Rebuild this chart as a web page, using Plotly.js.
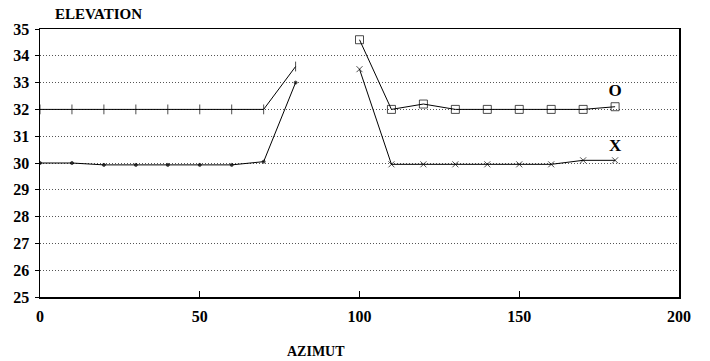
<!DOCTYPE html>
<html>
<head>
<meta charset="utf-8">
<script src="https://cdn.plot.ly/plotly-3.0.1.min.js"></script>
<style>html,body{margin:0;padding:0;background:#fff;}#chart{width:710px;height:361px;}</style>
</head>
<body>
<div id="chart"></div>
<script>
// Data
const azimut = [0, 10, 20, 30, 40, 50, 60, 70, 80, 90, 100, 110, 120, 130, 140, 150, 160, 170, 180];
const elevO  = [32, 32, 32, 32, 32, 32, 32, 32, 33.6, null, 34.6, 32, 32.2, 32, 32, 32, 32, 32, 32.1];
const elevX  = [30, 30, 29.93, 29.93, 29.93, 29.93, 29.93, 30.05, 33, null, 33.5, 29.95, 29.95, 29.95, 29.95, 29.95, 29.95, 30.1, 30.1];
const labelO = ['', '', '', '', '', '', '', '', '', '', '', '', '', '', '', '', '', '', 'O'];
const labelX = ['', '', '', '', '', '', '', '', '', '', '', '', '', '', '', '', '', '', 'X'];
const symO = azimut.map(a => a < 90 ? 'line-ns-open' : 'square-open');
const sizeO = azimut.map(a => a < 90 ? 7 : 8);
const symX = azimut.map(a => a < 90 ? 'circle' : 'x-thin-open');
const sizeX = azimut.map(a => a < 90 ? 3 : 6);
const xTicks = [0, 50, 100, 150, 200];
const yTicks = [25, 26, 27, 28, 29, 30, 31, 32, 33, 34, 35];

const serif = '"Liberation Serif"';
const traces = [
  {
    x: azimut, y: elevO, text: labelO, mode: 'lines+markers+text', connectgaps: false,
    textposition: 'top center', textfont: {family: serif, size: 17, color: '#000', weight: 'bold'},
    line: {color: '#000', width: 1},
    marker: {symbol: symO, size: sizeO, color: '#000', line: {color: '#000', width: 1}},
    hoverinfo: 'x+y', showlegend: false
  },
  {
    x: azimut, y: elevX, text: labelX, mode: 'lines+markers+text', connectgaps: false,
    textposition: 'top center', textfont: {family: serif, size: 17, color: '#000', weight: 'bold'},
    line: {color: '#000', width: 1},
    marker: {symbol: symX, size: sizeX, color: '#000', line: {color: '#000', width: 1}},
    hoverinfo: 'x+y', showlegend: false
  }
];

const layout = {
  width: 710, height: 361,
  margin: {l: 40, r: 31, t: 29, b: 64},
  paper_bgcolor: '#fff', plot_bgcolor: '#fff',
  font: {family: serif, color: '#000'},
  xaxis: {
    range: [0, 200], tickvals: xTicks, ticktext: xTicks.map(String),
    ticks: 'inside', ticklen: 6, tickcolor: '#000', tickwidth: 1,
    showgrid: false, zeroline: false,
    showline: true, mirror: true, linecolor: '#000', linewidth: 1.5,
    tickfont: {family: serif, size: 16, color: '#000', weight: 'bold'},
    ticklabelstandoff: 4
  },
  yaxis: {
    range: [25, 35], tickvals: yTicks, ticktext: yTicks.map(String),
    ticks: 'outside', ticklen: 4, tickcolor: '#000', tickwidth: 1,
    showgrid: true, gridcolor: '#555', gridwidth: 1, griddash: '1px,2px',
    zeroline: false,
    showline: true, mirror: true, linecolor: '#000', linewidth: 1.5,
    tickfont: {family: serif, size: 16, color: '#000', weight: 'bold'},
    ticklabelstandoff: 2
  },
  annotations: [
    {text: 'ELEVATION', xref: 'paper', yref: 'paper', x: 0.02, y: 1.056, xanchor: 'left', yanchor: 'middle',
     showarrow: false, font: {family: serif, size: 15, color: '#000', weight: 'bold'}},
    {text: 'AZIMUT', xref: 'paper', yref: 'paper', x: 0.432, y: -0.205, xanchor: 'center', yanchor: 'middle',
     showarrow: false, font: {family: serif, size: 14, color: '#000', weight: 'bold'}}
  ]
};

Plotly.newPlot('chart', traces, layout, {displayModeBar: false, staticPlot: true});
</script>
</body>
</html>
